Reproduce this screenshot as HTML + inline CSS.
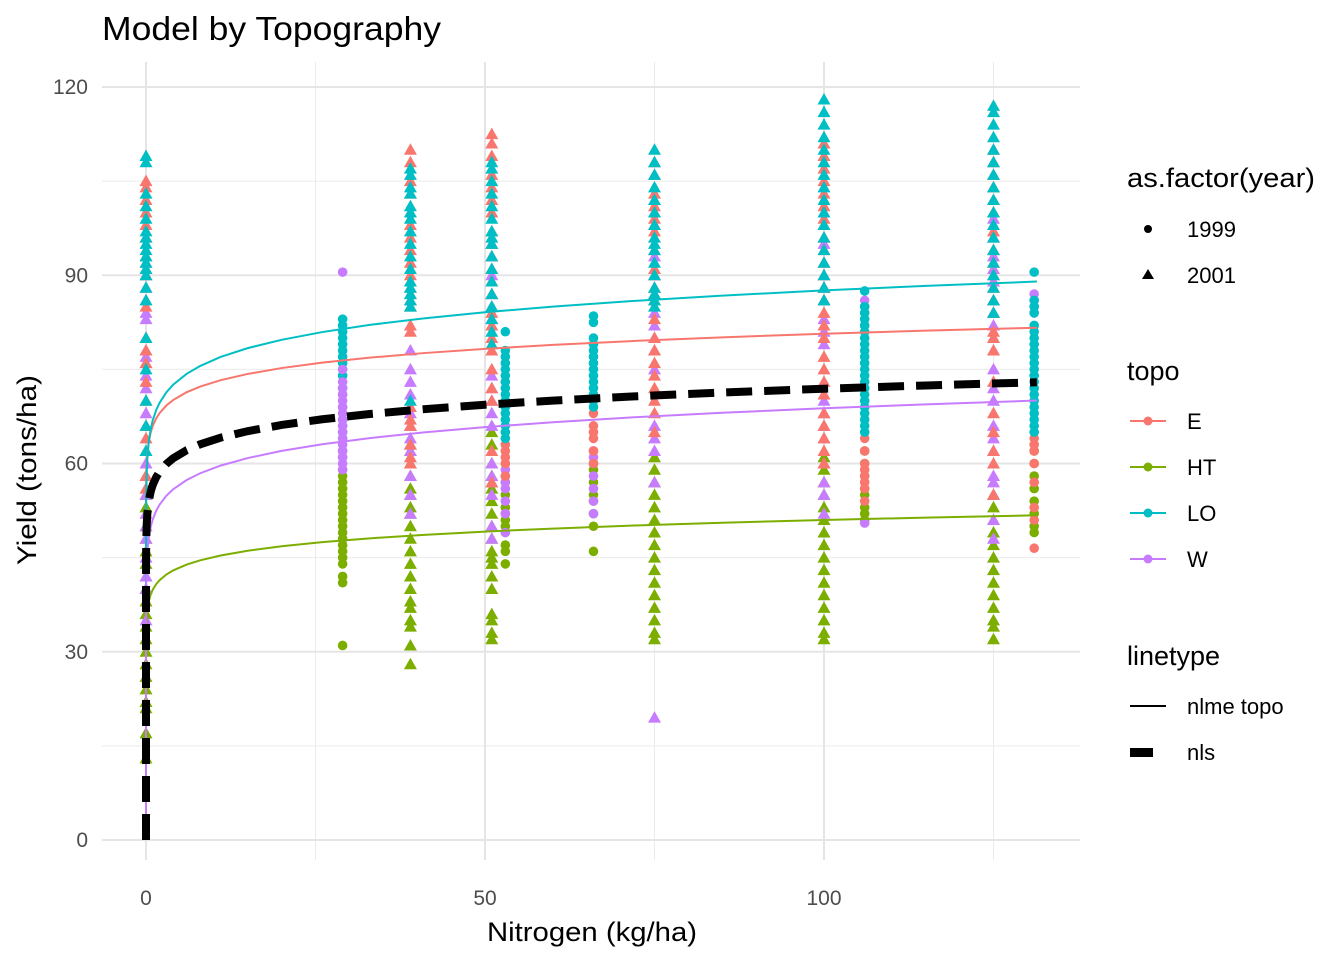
<!DOCTYPE html>
<html><head><meta charset="utf-8"><style>
body{margin:0;background:#fff;}
svg text{font-family:"Liberation Sans",Arial,sans-serif;}
</style></head><body>
<svg id="chart" width="1344" height="960" viewBox="0 0 1344 960" xmlns="http://www.w3.org/2000/svg">
<rect width="1344" height="960" fill="#fff"/>
<g id="grid"></g>
<g id="points"></g>
<g id="curves"></g>
<g id="axes"></g>
<text x="102" y="40" font-size="33" fill="#000" textLength="339" lengthAdjust="spacingAndGlyphs">Model by Topography</text>
<text x="592" y="941" font-size="27" text-anchor="middle" textLength="210" lengthAdjust="spacingAndGlyphs">Nitrogen (kg/ha)</text>
<text transform="translate(36,470) rotate(-90)" font-size="27" text-anchor="middle" textLength="190" lengthAdjust="spacingAndGlyphs">Yield (tons/ha)</text>
<g id="legend">
<text x="1127" y="187" font-size="27" textLength="188" lengthAdjust="spacingAndGlyphs">as.factor(year)</text>
<circle cx="1148" cy="229" r="4" fill="#000"/>
<text x="1187" y="237" font-size="22">1999</text>
<path d="M1148,269 L1154,279 L1142,279 Z" fill="#000"/>
<text x="1187" y="283" font-size="22">2001</text>
<text x="1127" y="380" font-size="27">topo</text>
<g><line x1="1130" y1="421" x2="1166" y2="421" stroke="#F8766D" stroke-width="2"/><circle cx="1148" cy="421" r="4.5" fill="#F8766D"/><text x="1187" y="429" font-size="22">E</text></g>
<g><line x1="1130" y1="467" x2="1166" y2="467" stroke="#7CAE00" stroke-width="2"/><circle cx="1148" cy="467" r="4.5" fill="#7CAE00"/><text x="1187" y="475" font-size="22">HT</text></g>
<g><line x1="1130" y1="513" x2="1166" y2="513" stroke="#00BFC4" stroke-width="2"/><circle cx="1148" cy="513" r="4.5" fill="#00BFC4"/><text x="1187" y="521" font-size="22">LO</text></g>
<g><line x1="1130" y1="559" x2="1166" y2="559" stroke="#C77CFF" stroke-width="2"/><circle cx="1148" cy="559" r="4.5" fill="#C77CFF"/><text x="1187" y="567" font-size="22">W</text></g>
<text x="1127" y="665" font-size="27">linetype</text>
<g><line x1="1130" y1="706" x2="1166" y2="706" stroke="#000" stroke-width="2"/><text x="1187" y="714" font-size="22">nlme topo</text></g>
<g><rect x="1130" y="748" width="23" height="9" fill="#000"/><text x="1187" y="760" font-size="22">nls</text></g>
</g>
</svg>
<script>
const xTicks=[0,50,100];
const xMinor=[25,75,125];
const yTicks=[0,30,60,90,120];
const yMinor=[15,45,75,105];
const topoNames=["E","HT","LO","W"];
// model params: y = a * x^b
const nlmeA=[66.0,39.9,66.9,51.1];
const nlmeB=[0.0436,0.0533,0.0585,0.0646];
const nlsA=56.6, nlsB=0.052;
// columns of observations: [nitrogen, year, topo, yields...]
const obs=[
[0,2001,"HT",62,58,55,53,50,48,46,44,42,40,38,36,34,32,30,28,26,24,22,21,17,13],
[0,2001,"W",92,90,88,86,84,83,78,77,76,74,72,68,60,58,55,52,50,48,45,42,40,35],
[0,2001,"E",105,104,102,100,98,96,93,90,85,80,78,76,73,70,66,64,58,56],
[0,2001,"LO",109,108,103,101,99,97,96,95,94,93,92,91,90,88,86,80,75,70,66,62],
[29,1999,"HT",59,58,57,56,55,54,53,52,51,50,49,48,47,46,45,44,42,41,31],
[29,1999,"LO",83,82,81,80,79,78,77,76,75,74,72,71,69,67,66,65,64,62,61],
[29,1999,"W",90.5,75,73,72,71,70,69,68,67,66,65,64,63,62,61,60,59],
[39,2001,"HT",63,62,60,58,56,55,53,52,50,48,46,44,42,40,38,37,35,34,31,28],
[39,2001,"W",89,88,86,78,75,73,71,68,66,64,62,58,55,52],
[39,2001,"E",110,108,105,103,100,98,96,94,92,90,87,85,82,81,69,67,66,63,61,60],
[39,2001,"LO",107,106,104,103,101,100,99,97,95,93,91,89,88,87,86,85,70],
[51,2001,"HT",65,63,60,58,56,54,52,50,48,46,45,44,42,40,36,35,33,32],
[51,2001,"W",95,93,90,87,85,83,74,72,70,68,66,60,58,57,55,50,48],
[51,2001,"E",112.5,111,109,106,104,102,100,97,95,93,91,89,87,84,82,80,78,75,72,70,62,57],
[51,2001,"LO",108,107,105,103,101,99,97,96,95,93,91,89,87,85,83,81,79],
[53,1999,"HT",58,57,55,53,52,51,50,49,47,46,44],
[53,1999,"W",60,59,57,56,54,52,49],
[53,1999,"E",63,62,61,60,58],
[53,1999,"LO",81,78,77,76,75,74,73,72,71,70,69,68,67,66,65,64],
[66,1999,"HT",60,59,57,55,54,52,50,46],
[66,1999,"W",62,61,60,58,56,54,52],
[66,1999,"E",68,66,65,64,62,60],
[66,1999,"LO",83.5,82.5,80,79,78,77,76,75,74,73,72,71,70,69],
[75,2001,"HT",61,59,57,55,53,51,49,47,45,43,41,39,37,35,33,32],
[75,2001,"W",100,98,93,90,87,84,82,80,78,75,66,64,62,57,19.5],
[75,2001,"E",108,106,103,101,99,97,94,91,90,88,86,83,80,78,76,74,72,70,68,65],
[75,2001,"LO",110,108,106,104,102,100,98,96,95,94,92,90,88,87,86,85],
[100,2001,"HT",61,59,57,55,53,51,49,47,45,43,41,39,37,35,33,32],
[100,2001,"W",98,95,90,88,86,83,81,79,70,68,66,64,60,57,55,52],
[100,2001,"E",111,109,107,105,103,101,99,96,94,92,90,88,86,84,82,80,77,75,73,71,68,66,64,62,60],
[100,2001,"LO",118,116,114,112,110,108,106,104,102,100,98,96,94,92,90,88,86],
[106,1999,"HT",62,60,58,56,55,53,52,51],
[106,1999,"W",86,85,84,82,50.5],
[106,1999,"E",64,62,60,59,58,57,56,54],
[106,1999,"LO",87.5,85,84,83,82,81,80,79,78,77,76,75,74,73,72,71,70,69,68,67,66,65],
[125,2001,"HT",55,53,51,49,47,45,43,41,39,37,35,34,32],
[125,2001,"W",99,96,93,91,89,86,84,82,80,78,75,72,70,66,64,62,58,57,55,51,48],
[125,2001,"E",110,108,106,104,102,100,97,94,92,90,88,86,84,81,80,78,73,68,65,62,60,55],
[125,2001,"LO",117,116,114,112,110,108,106,104,102,100,98,96,94,92,90,88,86,84],
[131,1999,"HT",62,60,58,56,54,52,50,49],
[131,1999,"W",87,86,85,84],
[131,1999,"E",64,63,62,60,57,53,51,46.5],
[131,1999,"LO",90.5,86,85,84,82,81,80,79,78,77,76,75,74,73,72,71,70,69,68,67,66,65]
];
const colors={E:"#F8766D",HT:"#7CAE00",LO:"#00BFC4",W:"#C77CFF"};
const NS="http://www.w3.org/2000/svg";
const X=v=>146+v*6.78;
const Y=v=>840-v*6.275;
const PX0=102,PX1=1080,PY0=62,PY1=860;
function mk(tag,attrs,parent){const e=document.createElementNS(NS,tag);for(const k in attrs)e.setAttribute(k,attrs[k]);parent.appendChild(e);return e;}
const grid=document.getElementById('grid');
yMinor.forEach(v=>{const l=mk('line',{x1:PX0,x2:PX1,y1:Y(v),y2:Y(v),stroke:'#ebebeb','stroke-width':1},grid);

});
xMinor.forEach(v=>{const l=mk('line',{x1:X(v),x2:X(v),y1:PY0,y2:PY1,stroke:'#ebebeb','stroke-width':1},grid);

});
yTicks.forEach(v=>{const l=mk('line',{x1:PX0,x2:PX1,y1:Y(v),y2:Y(v),stroke:'#e5e5e5','stroke-width':2},grid);


const t=mk('text',{x:88,y:Y(v)+7,'font-size':21,fill:'#4d4d4d','text-anchor':'end'},grid);t.textContent=v;

});
xTicks.forEach(v=>{const l=mk('line',{x1:X(v),x2:X(v),y1:PY0,y2:PY1,stroke:'#e5e5e5','stroke-width':2},grid);


const t=mk('text',{x:X(v),y:905,'font-size':21,fill:'#4d4d4d','text-anchor':'middle'},grid);t.textContent=v;

});
const pg=document.getElementById('points');
obs.forEach(row=>{const n=row[0],yr=row[1],tp=row[2];
for(let i=3;i<row.length;i++){const cx=X(n),cy=Y(row[i]);let e;
if(yr===1999){e=mk('circle',{cx:cx,cy:cy,r:4.8,fill:colors[tp]},pg);}
else{e=mk('path',{d:`M${cx},${cy-6.5} L${cx+6.5},${cy+5} L${cx-6.5},${cy+5} Z`,fill:colors[tp]},pg);}

}});
const cg=document.getElementById('curves');
function curvePts(a,b){const xs=[0,1e-12,1e-9,1e-7,1e-5,1e-4,1e-3,0.01,0.03,0.1,0.2,0.4,0.7,1,1.5,2,3,4,6,8,11,15,20,26,33,41,50,60,72,85,100,115,131.4];
return xs.map(x=>{const y=x===0?0:a*Math.pow(x,b);return X(x).toFixed(2)+','+Y(y).toFixed(2);}).join(' ');}
topoNames.forEach((tp,i)=>{const p=mk('polyline',{points:curvePts(nlmeA[i],nlmeB[i]),fill:'none',stroke:colors[tp],'stroke-width':2},cg);

});
const nl=mk('polyline',{points:curvePts(nlsA,nlsB),fill:'none',stroke:'#000','stroke-width':8,'stroke-dasharray':'26 12'},cg);


</script>
</body></html>
